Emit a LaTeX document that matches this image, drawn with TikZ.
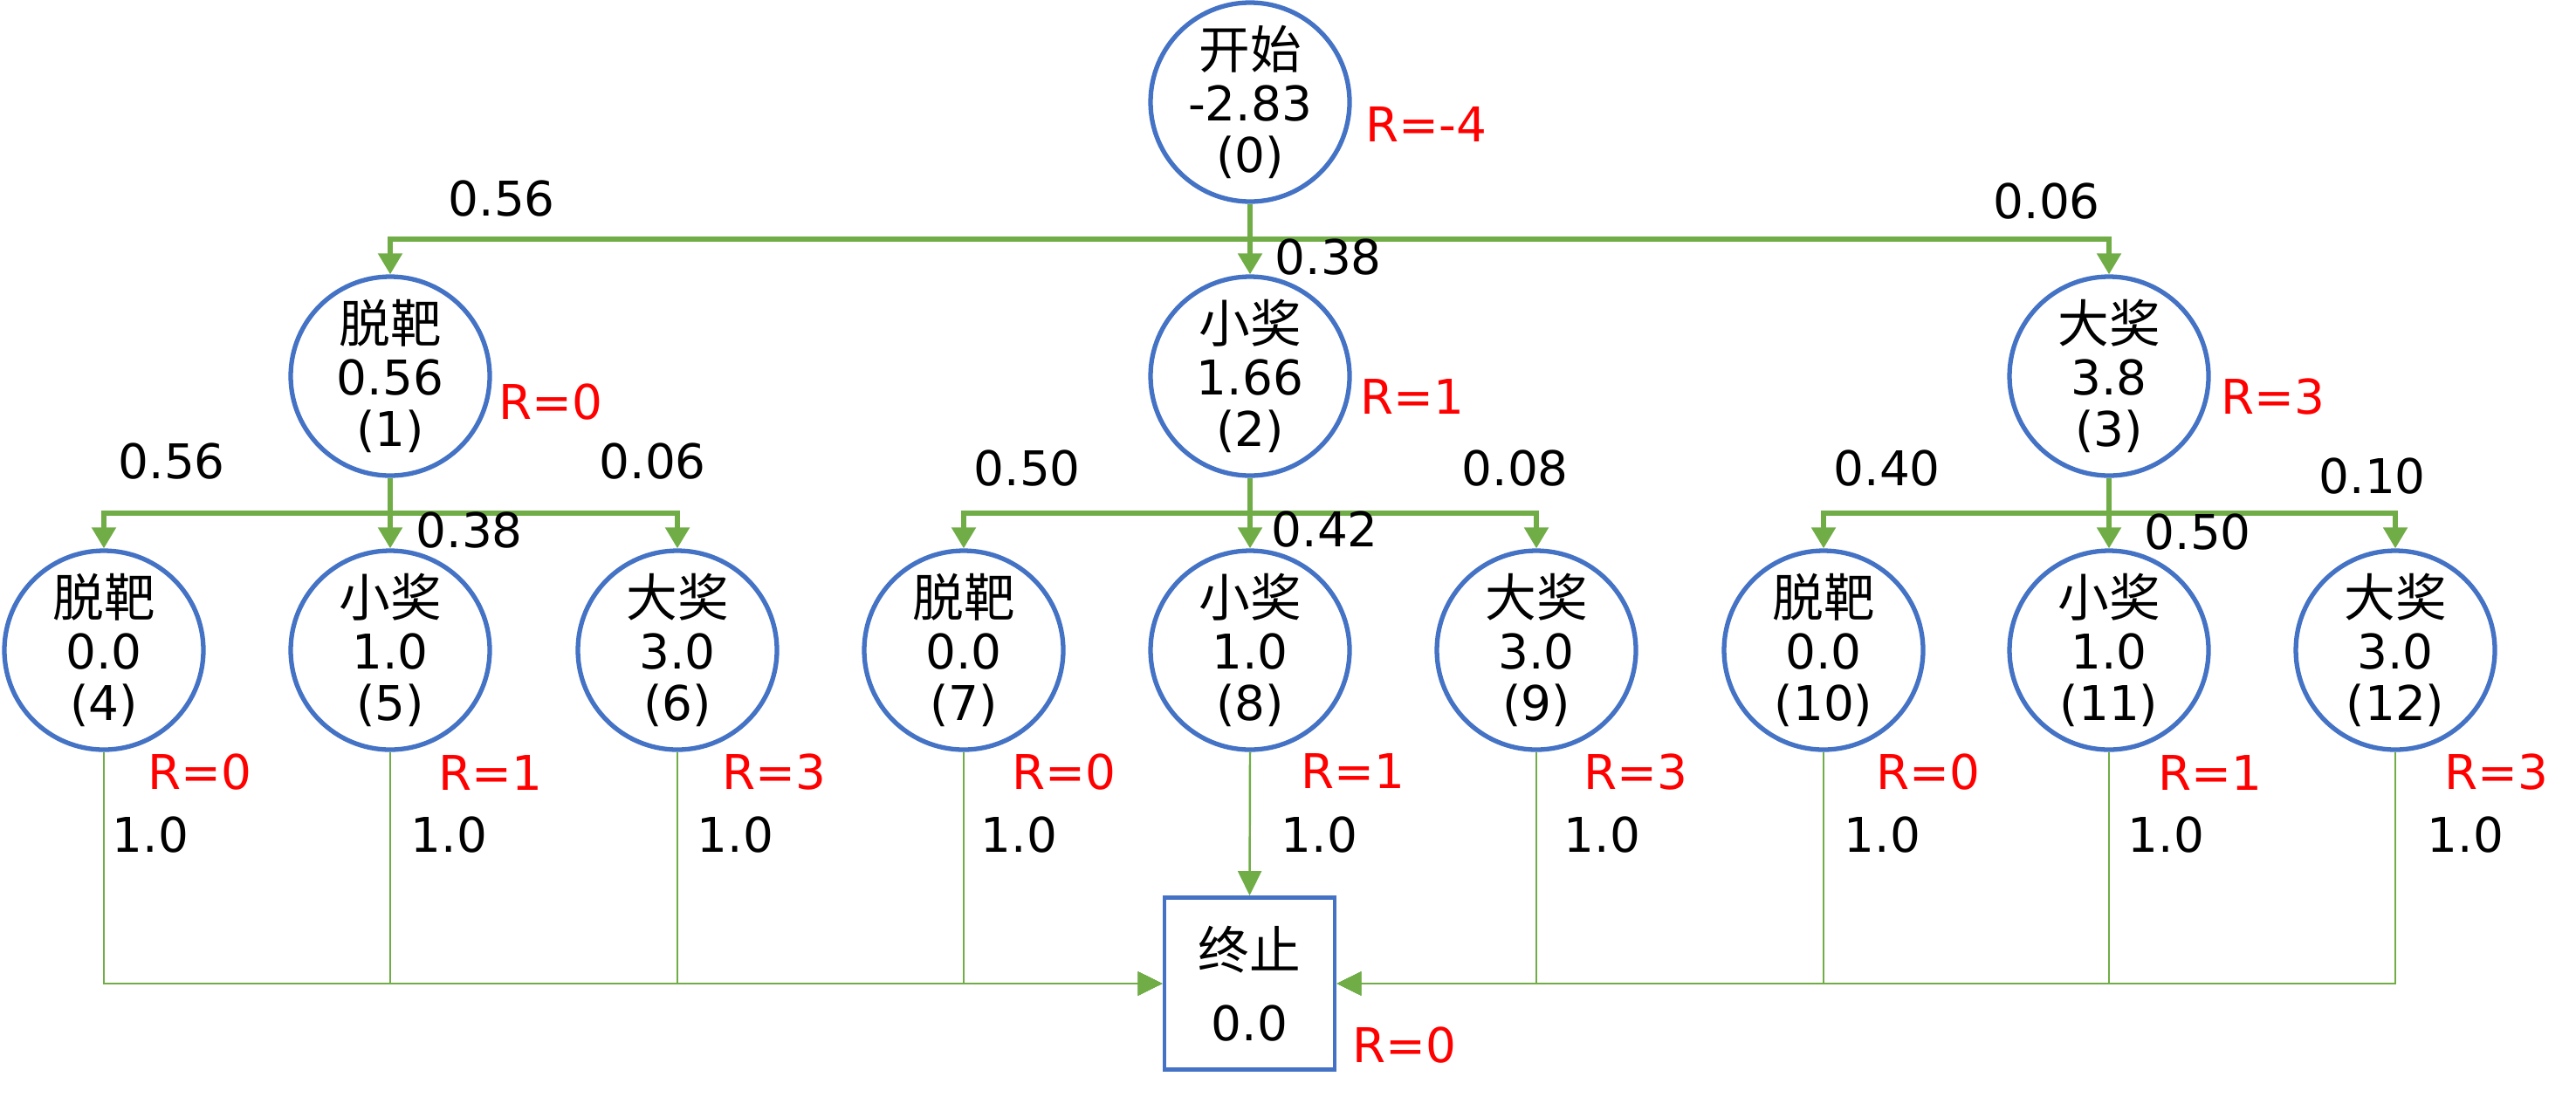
\documentclass[tikz,border=0pt]{standalone}
\usepackage{fontspec}
\setmainfont{DejaVu Sans}
\newfontfamily\cjk{Noto Sans CJK SC}[Scale=1.07]
\usepackage{tikz}
\usetikzlibrary{arrows.meta}
\definecolor{nodeblue}{HTML}{4472C4}
\definecolor{arrgreen}{HTML}{70AD47}
\definecolor{rred}{HTML}{FF0000}
\tikzset{
  state/.style={shape=circle,draw=nodeblue,line width=1.5pt,minimum size=2.28cm,inner sep=0pt,align=center,font=\fontsize{15.6}{17}\selectfont},
  stopbox/.style={shape=rectangle,draw=nodeblue,line width=1.4pt,minimum width=1.95cm,minimum height=1.97cm,inner sep=0pt,align=center,font=\fontsize{15.6}{23.5}\selectfont},
  trans/.style={draw=arrgreen,line width=1.5pt,-{Triangle[length=2.4mm,width=2.7mm]}},
  done/.style={draw=arrgreen,line width=0.7pt,-{Triangle[length=2.8mm,width=2.7mm]}},
  prob/.style={anchor=west,inner sep=0pt,font=\fontsize{15.6}{17}\selectfont},
  rew/.style={prob,text=rred}
}
\newcommand{\statenode}[6]{\node[state] (#1) at (#2,#3) {{\cjk #4}\\#5\\(#6)};}
\newcommand{\problabel}[4]{\node[prob] (#1) at (#2,#3) {#4};}
\newcommand{\rewlabel}[4]{\node[rew] (#1) at (#2,#3) {#4};}

\begin{document}
\begin{tikzpicture}
            \useasboundingbox (0,0) rectangle (29.51,-12.64);
            % level0
            \statenode{s0}{14.32}{-1.17}{开始}{-2.83}{0}
            \rewlabel{r0}{15.64}{-1.43}{R=-4}

            % level1
            \statenode{s1}{4.47}{-4.31}{脱靶}{0.56}{1}
            \statenode{s2}{14.32}{-4.31}{小奖}{1.66}{2}
            \statenode{s3}{24.16}{-4.31}{大奖}{3.8}{3}
            \rewlabel{r1}{5.71}{-4.61}{R=0}
            \rewlabel{r2}{15.58}{-4.55}{R=1}
            \rewlabel{r3}{25.44}{-4.55}{R=3}

            \coordinate (b0) at (14.32,-2.74);
            \draw[trans] (s0.south) -- (b0) -| (s1.north);
            \draw[trans] (s0.south) -- (s2.north);
            \draw[trans] (s0.south) -- (b0) -| (s3.north);
            \problabel{p1}{5.13}{-2.28}{0.56}
            \problabel{p2}{14.60}{-2.95}{0.38}
            \problabel{p3}{22.83}{-2.31}{0.06}

            % level2
            \statenode{s4}{1.19}{-7.45}{脱靶}{0.0}{4}
            \statenode{s5}{4.47}{-7.45}{小奖}{1.0}{5}
            \statenode{s6}{7.76}{-7.45}{大奖}{3.0}{6}
            \statenode{s7}{11.04}{-7.45}{脱靶}{0.0}{7}
            \statenode{s8}{14.32}{-7.45}{小奖}{1.0}{8}
            \statenode{s9}{17.60}{-7.45}{大奖}{3.0}{9}
            \statenode{s10}{20.89}{-7.45}{脱靶}{0.0}{10}
            \statenode{s11}{24.16}{-7.45}{小奖}{1.0}{11}
            \statenode{s12}{27.44}{-7.45}{大奖}{3.0}{12}

            \coordinate (b1) at (4.47,-5.88);
            \coordinate (b2) at (14.32,-5.88);
            \coordinate (b3) at (24.16,-5.88);
            \draw[trans] (s1.south) -- (b1) -| (s4.north);
            \draw[trans] (s1.south) -- (s5.north);
            \draw[trans] (s1.south) -- (b1) -| (s6.north);
            \draw[trans] (s2.south) -- (b2) -| (s7.north);
            \draw[trans] (s2.south) -- (s8.north);
            \draw[trans] (s2.south) -- (b2) -| (s9.north);
            \draw[trans] (s3.south) -- (b3) -| (s10.north);
            \draw[trans] (s3.south) -- (s11.north);
            \draw[trans] (s3.south) -- (b3) -| (s12.north);

            \problabel{p4}{1.35}{-5.29}{0.56}
            \problabel{p5}{4.76}{-6.08}{0.38}
            \problabel{p6}{6.86}{-5.29}{0.06}
            \problabel{p7}{11.15}{-5.37}{0.50}
            \problabel{p8}{14.56}{-6.07}{0.42}
            \problabel{p9}{16.74}{-5.37}{0.08}
            \problabel{p10}{21.00}{-5.37}{0.40}
            \problabel{p11}{24.56}{-6.10}{0.50}
            \problabel{p12}{26.56}{-5.46}{0.10}

            \rewlabel{r4}{1.69}{-8.85}{R=0}
            \rewlabel{r5}{5.02}{-8.85}{R=1}
            \rewlabel{r6}{8.27}{-8.85}{R=3}
            \rewlabel{r7}{11.59}{-8.85}{R=0}
            \rewlabel{r8}{14.90}{-8.83}{R=1}
            \rewlabel{r9}{18.14}{-8.85}{R=3}
            \rewlabel{r10}{21.49}{-8.85}{R=0}
            \rewlabel{r11}{24.72}{-8.85}{R=1}
            \rewlabel{r12}{28.00}{-8.85}{R=3}

            % terminal
            \node[stopbox] (t) at (14.315,-11.27) {{\cjk 终止}\\0.0};
            \rewlabel{rt}{15.49}{-11.98}{R=0}

            \draw[done] (s4.south) |- (t.west);
            \draw[done] (s5.south) |- (t.west);
            \draw[done] (s6.south) |- (t.west);
            \draw[done] (s7.south) |- (t.west);
            \draw[done] (s8.south) -- (t.north);
            \draw[done] (s9.south) |- (t.east);
            \draw[done] (s10.south) |- (t.east);
            \draw[done] (s11.south) |- (t.east);
            \draw[done] (s12.south) |- (t.east);

            \problabel{q4}{1.28}{-9.57}{1.0}
            \problabel{q5}{4.70}{-9.57}{1.0}
            \problabel{q6}{7.98}{-9.57}{1.0}
            \problabel{q7}{11.23}{-9.57}{1.0}
            \problabel{q8}{14.67}{-9.57}{1.0}
            \problabel{q9}{17.91}{-9.57}{1.0}
            \problabel{q10}{21.12}{-9.57}{1.0}
            \problabel{q11}{24.37}{-9.57}{1.0}
            \problabel{q12}{27.80}{-9.57}{1.0}
\end{tikzpicture}
\end{document}
